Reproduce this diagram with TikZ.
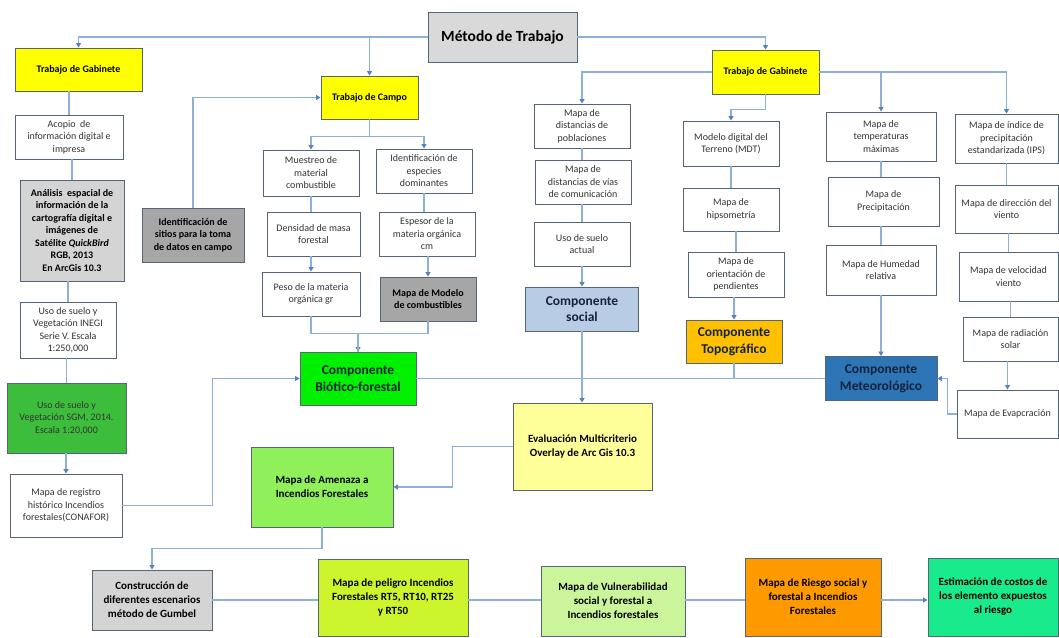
\documentclass[tikz,border=0pt]{standalone}
\usepackage{fontspec}
\setmainfont{Carlito}
\usetikzlibrary{arrows.meta,positioning}
\definecolor{linkblue}{RGB}{143,176,214}
\definecolor{tipblue}{RGB}{84,130,190}
\definecolor{boxline}{RGB}{85,100,118}
\definecolor{titlegray}{RGB}{217,217,217}
\definecolor{softgray}{RGB}{212,212,212}
\definecolor{darkgray}{RGB}{166,166,166}
\definecolor{gabyellow}{RGB}{255,255,0}
\definecolor{sgmgreen}{RGB}{60,190,60}
\definecolor{bioticgreen}{RGB}{0,240,0}
\definecolor{socialblue}{RGB}{184,204,230}
\definecolor{evalyellow}{RGB}{255,255,153}
\definecolor{topogold}{RGB}{255,192,0}
\definecolor{meteoblue}{RGB}{46,117,182}
\definecolor{meteotext}{RGB}{20,35,60}
\definecolor{amenazagreen}{RGB}{143,240,90}
\definecolor{peligrogreen}{RGB}{204,245,45}
\definecolor{vulnergreen}{RGB}{202,245,155}
\definecolor{riesgoorange}{RGB}{255,153,0}
\definecolor{estimgreen}{RGB}{25,235,140}
\begin{document}
\begin{tikzpicture}[x=1pt, y=-1pt,
    flowbox/.style={rectangle, draw=boxline, line width=0.9pt, inner sep=1pt, align=center, text=black!80},
    wbox/.style={flowbox, fill=white, font=\fontsize{10}{12.5}\selectfont},
    bbox/.style={flowbox, text=black, font=\fontsize{10}{12.5}\selectfont\bfseries},
    mbox/.style={flowbox, text=black, font=\fontsize{11}{14}\selectfont\bfseries},
    cbox/.style={flowbox, text=meteotext, font=\fontsize{13.5}{16.5}\selectfont\bfseries},
    conn/.style={draw=linkblue, line width=1.2pt},
    connarrow/.style={conn, -{Triangle[width=5pt,length=4.5pt,color=tipblue]}}]

    \fill[white] (0,0) rectangle (1059,637);
    \useasboundingbox (0,0) rectangle (1059,637);

    % top level
    \node[flowbox, fill=titlegray, text=black, font=\fontsize{15.5}{18}\selectfont\bfseries, minimum width=149, minimum height=50] (metodo) at (502.5,37) {Método de Trabajo};
    \node[bbox, fill=gabyellow, minimum width=127, minimum height=43] (gabL) at (78.5,69.5) {Trabajo de Gabinete};
    \node[bbox, fill=gabyellow, minimum width=97, minimum height=43] (campo) at (369.5,97.5) {Trabajo de Campo};
    \node[bbox, fill=gabyellow, minimum width=107, minimum height=44] (gabR) at (765.5,72) {Trabajo de Gabinete};

    % left column
    \node[wbox, minimum width=108, minimum height=44] (acopio) at (69,137) {Acopio~ de\\información digital e\\impresa};
    \node[bbox, fill=softgray, minimum width=104, minimum height=101] (analisis) at (72,230.5) {Análisis~ espacial de\\información de la\\cartografía digital e\\imágenes de\\Satélite \textit{QuickBird}\\RGB, 2013\\En ArcGis 10.3};
    \node[wbox, minimum width=96, minimum height=56] (inegi) at (68,330) {Uso de suelo y\\Vegetación INEGI\\Serie V. Escala\\1:250,000};
    \node[wbox, fill=sgmgreen, minimum width=119, minimum height=70] (sgm) at (66.5,418) {Uso de suelo y\\Vegetación SGM, 2014.\\Escala 1:20,000};
    \node[wbox, minimum width=112, minimum height=63] (registro) at (66,505.5) {Mapa de registro\\histórico Incendios\\forestales(CONAFOR)};

    % trabajo de campo
    \node[bbox, fill=darkgray, minimum width=102, minimum height=54] (sitios) at (193,235) {Identificación de\\sitios para la toma\\de datos en campo};
    \node[wbox, minimum width=96, minimum height=46] (muestreo) at (311,173) {Muestreo de\\material\\combustible};
    \node[wbox, minimum width=93, minimum height=44] (densidad) at (313.5,234) {Densidad de masa\\forestal};
    \node[wbox, minimum width=98, minimum height=44] (peso) at (311,294) {Peso de la materia\\orgánica gr};
    \node[wbox, minimum width=96, minimum height=44] (especies) at (424,171) {Identificación de\\especies\\dominantes};
    \node[wbox, minimum width=96, minimum height=44] (espesor) at (427,234) {Espesor de la\\materia orgánica\\cm};
    \node[bbox, fill=darkgray, minimum width=96, minimum height=44] (modelo) at (428,299) {Mapa de Modelo\\de combustibles};
    \node[cbox, fill=bioticgreen, minimum width=116, minimum height=53] (biotico) at (358,378.5) {Componente\\Biótico-forestal};

    % componente social
    \node[wbox, minimum width=96, minimum height=44] (poblaciones) at (582,126) {Mapa de\\distancias de\\poblaciones};
    \node[wbox, minimum width=96, minimum height=44] (vias) at (583,182) {Mapa de\\distancias de vías\\de comunicación};
    \node[wbox, minimum width=96, minimum height=44] (usoactual) at (582,244) {Uso de suelo\\actual};
    \node[cbox, fill=socialblue, minimum width=113, minimum height=44] (social) at (582,309) {Componente\\social};

    % componente topografico
    \node[wbox, minimum width=96, minimum height=45] (mdt) at (731,143.5) {Modelo digital del\\Terreno (MDT)};
    \node[wbox, minimum width=96, minimum height=43] (hipso) at (731,209.5) {Mapa de\\hipsometría};
    \node[wbox, minimum width=96, minimum height=45] (orient) at (736,274.5) {Mapa de\\orientación de\\pendientes};
    \node[cbox, fill=topogold, minimum width=96, minimum height=43] (topo) at (734,341.5) {Componente\\Topográfico};

    % componente meteorologico
    \node[wbox, minimum width=110, minimum height=49] (temp) at (881,136.5) {Mapa de\\temperaturas\\máximas};
    \node[wbox, minimum width=111, minimum height=49] (precip) at (883.5,201.5) {Mapa de\\Precipitación};
    \node[wbox, minimum width=110, minimum height=50] (humedad) at (881,270) {Mapa de Humedad\\relativa};
    \node[cbox, fill=meteoblue, minimum width=112, minimum height=44] (meteo) at (881,378.5) {Componente\\Meteorológico};
    \node[wbox, minimum width=103, minimum height=49] (ips) at (1006.5,138.5) {Mapa de índice de\\precipitación\\estandarizada (IPS)};
    \node[wbox, minimum width=103, minimum height=48] (direccion) at (1006.5,209) {Mapa de dirección del\\viento};
    \node[wbox, minimum width=99, minimum height=49] (velocidad) at (1008.5,276.5) {Mapa de velocidad\\viento};
    \node[wbox, minimum width=95, minimum height=44] (radiacion) at (1010.5,339) {Mapa de radiación\\solar};
    \node[wbox, minimum width=101, minimum height=48] (evap) at (1007.5,414) {Mapa de Evapcración};

    % evaluacion y productos
    \node[mbox, fill=evalyellow, minimum width=139, minimum height=87] (evaluacion) at (582.5,446.5) {Evaluación Multicriterio\\Overlay de Arc Gis 10.3};
    \node[mbox, fill=amenazagreen, minimum width=142, minimum height=80] (amenaza) at (322,487) {Mapa de Amenaza a\\Incendios Forestales};
    \node[mbox, fill=softgray, minimum width=120, minimum height=60] (construccion) at (152,600) {Construcción de\\diferentes escenarios\\método de Gumbel};
    \node[mbox, fill=peligrogreen, minimum width=150, minimum height=77] (peligro) at (393,597.5) {Mapa de peligro Incendios\\Forestales RT5, RT10, RT25\\y RT50};
    \node[mbox, fill=vulnergreen, minimum width=144, minimum height=70] (vulnerab) at (613,601) {Mapa de Vulnerabilidad\\social y forestal a\\Incendios forestales};
    \node[mbox, fill=riesgoorange, minimum width=136, minimum height=78] (riesgo) at (813,597) {Mapa de Riesgo social y\\forestal a Incendios\\Forestales};
    \node[mbox, fill=estimgreen, minimum width=130, minimum height=78] (estimacion) at (993,597) {Estimación de costos de\\los elemento expuestos\\al riesgo};

    % connectors from the top
    \draw[connarrow] (metodo.west) -| (gabL.north);
    \draw[connarrow] (campo.north |- metodo.west) -- (campo.north);
    \draw[connarrow] (metodo.east) -| (gabR.north);

    % left column
    \draw[conn] (acopio.north |- gabL.south) -- (acopio.north);
    \draw[conn] (analisis.north |- acopio.south) -- (analisis.north);
    \draw[conn] (inegi.north |- analisis.south) -- (inegi.north);
    \draw[conn] (sgm.north |- inegi.south) -- (sgm.north);
    \draw[connarrow] (registro.north |- sgm.south) -- (registro.north);
    \draw[connarrow] (registro.east) -- ++(90,0) |- (biotico.west);

    % trabajo de campo
    \draw[connarrow] (sitios.north) |- (campo.west);
    \draw[connarrow] (campo.south) -- ++(0,17) -| (muestreo.north);
    \draw[connarrow] (campo.south) -- ++(0,17) -| (especies.north);
    \draw[conn] (densidad.north -| muestreo.south) -- (muestreo.south);
    \draw[connarrow] (densidad.south -| peso.north) -- (peso.north);
    \draw[conn] (especies.south) -- (especies.south |- espesor.north);
    \draw[connarrow] (espesor.south -| modelo.north) -- (modelo.north);
    \draw[connarrow] (peso.south) -- ++(0,17) -| (biotico.north);
    \draw[conn] (modelo.south) -- ++(0,12) -| (biotico.north);

    % componente social
    \draw[connarrow] (gabR.west) -| (poblaciones.north);
    \draw[conn] (poblaciones.south) -- (poblaciones.south |- vias.north);
    \draw[conn] (vias.south -| usoactual.north) -- (usoactual.north);
    \draw[connarrow] (usoactual.south -| social.north) -- (social.north);
    \draw[connarrow] (social.south) -- (social.south |- evaluacion.north);

    % componente topografico
    \draw[connarrow] (gabR.south) -- ++(0,15) -| (mdt.north);
    \draw[conn] (mdt.south) -- (mdt.south |- hipso.north);
    \draw[conn] (hipso.south -| orient.north) -- (orient.north);
    \draw[connarrow] (orient.south -| topo.north) -- (topo.north);
    \draw[conn] (topo.south) -- (topo.south |- biotico.east);
    \draw[conn] (biotico.east) -- (meteo.west);

    % componente meteorologico
    \draw[connarrow] (gabR.east) -| (temp.north);
    \draw[connarrow] (gabR.east) -| (ips.north);
    \draw[conn] (temp.south) -- (temp.south |- precip.north);
    \draw[conn] (precip.south -| humedad.north) -- (humedad.north);
    \draw[connarrow] (humedad.south) -- (meteo.north);
    \draw[conn] (ips.south) -- (ips.south |- direccion.north);
    \draw[conn] (direccion.south -| velocidad.north) -- (velocidad.north);
    \draw[conn] (velocidad.south -| radiacion.north) -- (radiacion.north);
    \draw[connarrow] (radiacion.south -| evap.north) -- (evap.north);
    \draw[connarrow] (evap.west) -- ++(-9,0) |- (meteo.east);

    % evaluacion y productos
    \draw[connarrow] (evaluacion.west) -- ++(-60,0) |- (amenaza.east);
    \draw[connarrow] (amenaza.south) -- ++(0,21) -| (construccion.north);
    \draw[conn] (construccion.east) -- (construccion.east -| peligro.west);
    \draw[conn] (peligro.east |- construccion.east) -- (vulnerab.west |- construccion.east);
    \draw[conn] (vulnerab.east |- construccion.east) -- (riesgo.west |- construccion.east);
    \draw[connarrow] (riesgo.east |- construccion.east) -- (estimacion.west |- construccion.east);
\end{tikzpicture}
\end{document}
